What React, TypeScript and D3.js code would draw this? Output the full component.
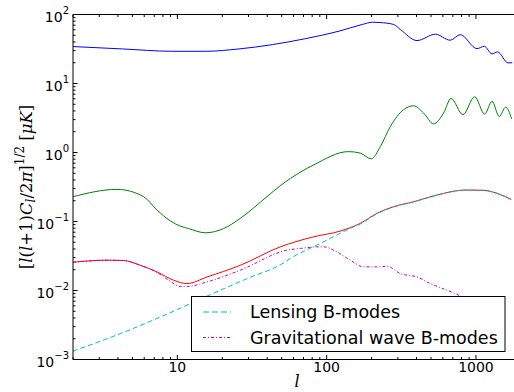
import React from "react";
import * as d3 from "d3";

// Temperature (blue)
const ttL = [2, 4.28, 9.25, 15.5, 25.9, 43.3, 72.3, 121, 173, 203, 228, 281, 312, 403, 535, 673, 785, 1016, 1138, 1280, 1397, 1640, 1750];
const ttV = [34.3, 31.7, 29.3, 29.3, 31.7, 36.6, 44.7, 57.3, 71.6, 77.3, 76.5, 71.7, 60.5, 41.9, 51.8, 42.4, 51.0, 32.0, 34.6, 26.9, 28.7, 19.9, 20.0];

// E-modes (green)
const eeL = [2, 3.94, 5.94, 7.3, 8.97, 10.46, 11.9, 15.4, 20.4, 26.4, 39.8, 48.9, 57.1, 81.8, 140, 168, 199, 229, 267, 327, 382, 446, 520, 607, 681, 818, 980, 1143, 1281, 1433, 1582, 1735];
const eeV = [0.229, 0.292, 0.229, 0.147, 0.102, 0.0857, 0.079, 0.0686, 0.079, 0.111, 0.229, 0.33, 0.42, 0.66, 1.03, 0.98, 0.81, 1.22, 2.38, 4.16, 4.75, 3.73, 2.6, 3.73, 6.07, 3.53, 6.43, 3.6, 5.5, 3.33, 4.55, 3.08];

// Total B-modes (red)
const bbL = [2, 3.38, 4.36, 5.65, 7.3, 9.44, 11.6, 15.8, 26.4, 48.9, 81.8, 123, 168, 217, 281, 382, 548, 849, 1125, 1384, 1720];
const bbV = [0.0257, 0.0275, 0.0272, 0.0232, 0.0186, 0.0141, 0.0126, 0.0157, 0.0232, 0.0429, 0.06, 0.0725, 0.094, 0.131, 0.164, 0.193, 0.242, 0.286, 0.283, 0.256, 0.209];

// Lensing B-modes (cyan)
const lensL = [2, 4.15, 8, 15.8, 30, 51.5, 57.1, 90.6, 144, 168, 217, 281, 382, 548, 849, 1125, 1384, 1720];
const lensV = [0.00132, 0.00237, 0.00428, 0.0083, 0.0152, 0.0251, 0.0291, 0.048, 0.0794, 0.092, 0.129, 0.162, 0.192, 0.241, 0.285, 0.283, 0.256, 0.209];

// Gravitational wave B-modes (magenta)
const gwL = [2, 3.38, 4.36, 5.65, 7.3, 9.0, 10.5, 12, 15.8, 26.4, 54.2, 66.6, 86, 95, 117, 144, 177, 229, 254, 311, 403, 494, 640, 727, 900];
const gwV = [0.0257, 0.0275, 0.0272, 0.0232, 0.0183, 0.0135, 0.0114, 0.0115, 0.0133, 0.0197, 0.0384, 0.0407, 0.0429, 0.043, 0.0363, 0.0275, 0.022, 0.022, 0.0225, 0.0176, 0.0157, 0.0126, 0.0101, 0.009, 0.0072];

const xMajor = [10, 100, 1000];
const xMajorLabels = ["10", "100", "1000"];
const yMajorExp = [-3, -2, -1, 0, 1, 2];

const legendNames = ["Lensing B-modes", "Gravitational wave B-modes"];

const W = 514;
const H = 392;

export default function App() {
  const x = d3.scaleLog().domain([2, 2000]).range([73, 520.9]);
  const y = d3.scaleLog().domain([1e-3, 1e2]).range([359.5, 14.5]);
  const left = 73;
  const top = 14.5;
  const bottom = 359.5;
  const right = 520.9;

  const mk = (ls: number[], vs: number[]) =>
    d3
      .line<number>()
      .x((_, i) => x(ls[i]))
      .y((_, i) => y(vs[i]))
      .curve(d3.curveMonotoneX)(vs) || "";

  const xTicks = x.ticks().filter((t) => t >= 2 && t <= 2000);
  const yTicks = y.ticks();
  const isMajor = (t: number) => Math.abs(Math.log10(t) - Math.round(Math.log10(t))) < 1e-9;

  const lx0 = 191.5, ly0 = 296.5, lw = 313.5, lh = 55;

  return (
    <svg
      width={W}
      height={H}
      style={{ position: "fixed", left: 0, top: 0, background: "#fff" }}
      fontFamily="DejaVu Sans, sans-serif"
    >
      <defs>
        <clipPath id="plotclip">
          <rect x={left} y={top} width={right - left} height={bottom - top} />
        </clipPath>
      </defs>
      <rect x={0} y={0} width={W} height={H} fill="#fff" />
      <g clipPath="url(#plotclip)" fill="none" strokeWidth={1}>
        <path d={mk(ttL, ttV)} stroke="#0000ff" />
        <path d={mk(eeL, eeV)} stroke="#008000" />
        <path d={mk(bbL, bbV)} stroke="#ff0000" />
        <path d={mk(lensL, lensV)} stroke="#00bfbf" strokeDasharray="5,3" />
        <path d={mk(gwL, gwV)} stroke="#bf00bf" strokeDasharray="3,2,1,2" />
      </g>

      {/* spines */}
      <g stroke="#000" strokeWidth={1} fill="none">
        <line x1={left} y1={top} x2={W} y2={top} />
        <line x1={left} y1={bottom} x2={W} y2={bottom} />
        <line x1={left} y1={top} x2={left} y2={bottom} />
      </g>

      {/* ticks */}
      <g stroke="#000" strokeWidth={1}>
        {xTicks.map((t, i) => {
          const len = isMajor(t) ? 4.5 : 2.5;
          const px = x(t);
          return (
            <g key={"xt" + i}>
              <line x1={px} x2={px} y1={bottom} y2={bottom - len} />
              <line x1={px} x2={px} y1={top} y2={top + len} />
            </g>
          );
        })}
        {yTicks.map((t, i) => {
          const len = isMajor(t) ? 4.5 : 2.5;
          const py = y(t);
          return <line key={"yt" + i} x1={left} x2={left + len} y1={py} y2={py} />;
        })}
      </g>

      {/* x tick labels */}
      <g fontSize={14} fill="#000" textAnchor="middle">
        {xMajor.map((t, i) => (
          <text key={"xl" + i} x={x(t)} y={372}>
            {xMajorLabels[i]}
          </text>
        ))}
      </g>

      {/* y tick labels */}
      <g fill="#000" textAnchor="end">
        {yMajorExp.map((e) => {
          const py = y(Math.pow(10, e));
          return (
            <text key={"yl" + e} x={69} y={py + 7} fontSize={14}>
              <tspan>10</tspan>
              <tspan fontSize={10} dy={-8}>
                {e < 0 ? "\u2212" + Math.abs(e) : String(e)}
              </tspan>
            </text>
          );
        })}
      </g>

      {/* axis labels */}
      <text
        x={(left + right) / 2}
        y={387}
        fontFamily="DejaVu Serif, serif"
        fontStyle="italic"
        fontSize={16}
        textAnchor="middle"
      >
        l
      </text>
      <text
        transform={`translate(32, ${(top + bottom) / 2}) rotate(-90)`}
        fontFamily="DejaVu Serif, serif"
        fontSize={16.5}
        textAnchor="middle"
      >
        <tspan>[</tspan>
        <tspan fontStyle="italic">l</tspan>
        <tspan>(</tspan>
        <tspan fontStyle="italic">l</tspan>
        <tspan>+1)</tspan>
        <tspan fontStyle="italic">C</tspan>
        <tspan fontStyle="italic" fontSize={12} dy={3}>l</tspan>
        <tspan dy={-3}>/2</tspan>
        <tspan fontStyle="italic">π</tspan>
        <tspan>]</tspan>
        <tspan fontSize={12} dy={-8}>1/2</tspan>
        <tspan dy={8}> [</tspan>
        <tspan fontStyle="italic">μK</tspan>
        <tspan>]</tspan>
      </text>

      {/* legend */}
      <g>
        <rect x={lx0} y={ly0} width={lw} height={lh} fill="#fff" stroke="#000" strokeWidth={1} />
        <line x1={203} x2={231} y1={312} y2={312} stroke="#00bfbf" strokeWidth={1} strokeDasharray="6,3" />
        <line x1={203} x2={231} y1={337.5} y2={337.5} stroke="#bf00bf" strokeWidth={1} strokeDasharray="3,2,1,2" />
        <text x={250} y={317.5} fontSize={17.5} fill="#000">
          {legendNames[0]}
        </text>
        <text x={250} y={343.5} fontSize={17.5} fill="#000">
          {legendNames[1]}
        </text>
      </g>
    </svg>
  );
}
